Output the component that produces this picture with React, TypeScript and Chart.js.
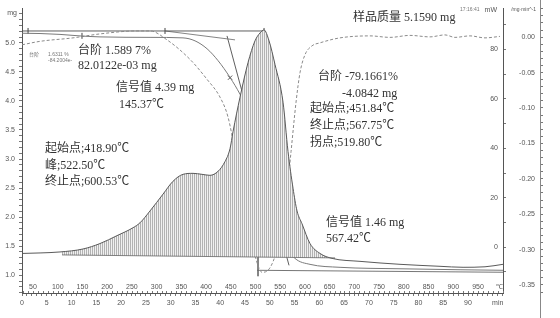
import React, { useEffect, useRef } from 'react';
import { Chart, registerables } from 'chart.js';

Chart.register(...registerables);

// ---------- DSC heat flow (mW) against temperature (°C)
const dscTemp = [27.8, 64.2, 104.6, 151.1, 185.5, 219.9, 252.3, 266.4, 286.7, 313.0, 333.2, 353.4, 373.6, 391.8, 408.0, 424.2, 438.4, 448.5, 454.5, 468.7, 484.9, 499.0, 509.2, 517.3, 527.4, 539.5, 555.7, 565.8, 575.9, 584.0, 594.1, 610.3, 630.5, 654.8, 711.4, 792.3, 873.2, 919.8, 964.2, 1000.6];
const dscPower = [-2.5, -2.3, -1.9, -0.7, 1.5, 4.7, 7.9, 9.9, 14.7, 21.5, 26.7, 29.5, 29.9, 29.5, 29.1, 30.7, 34.7, 39.9, 46.7, 60.7, 74.7, 83.5, 86.7, 87.9, 83.5, 73.9, 58.7, 38.7, 23.9, 14.7, 9.5, 1.5, -2.5, -4.5, -5.7, -6.9, -7.7, -8.1, -7.9, -6.9];
// integration baseline under the DSC peak
const baseTemp = [108.7, 660.9];
const basePower = [-3.1, -4.3];

// ---------- TG mass (mg)
const tgTemp = [27.8, 64.2, 104.6, 145.1, 185.5, 286.7, 353.4, 377.7, 402.0, 424.2, 448.5, 468.7, 489.0, 505.1, 519.3, 533.4, 549.6, 563.8, 580.0, 610.3, 671.0, 792.3, 913.7, 1000.6];
const tgMass = [5.165, 5.160, 5.145, 5.119, 5.102, 5.094, 5.085, 5.034, 4.898, 4.694, 4.404, 4.115, 3.757, 3.298, 2.753, 2.226, 1.800, 1.477, 1.289, 1.187, 1.136, 1.111, 1.094, 1.085];

// ---------- DTG (mg/min)
const dtgTemp = [27.8, 64.2, 131.0, 185.5, 260.4, 286.7, 321.0, 368.0, 402.0, 428.3, 444.4, 458.6, 478.8, 499.0, 513.2, 525.3, 545.6, 561.8, 571.9, 582.0, 590.1, 600.2, 614.4, 630.5, 671.0, 731.6, 772.0, 812.5, 852.9, 883.3, 903.5, 933.8, 964.2, 994.5];
const dtgRate = [-0.0108, -0.0059, -0.0010, 0.0046, 0.0088, 0.0088, -0.0038, -0.0317, -0.0596, -0.0848, -0.1127, -0.1616, -0.2384, -0.3082, -0.3320, -0.3292, -0.2943, -0.2314, -0.1616, -0.0918, -0.0499, -0.0247, -0.0122, -0.0080, -0.0010, 0.0018, -0.0003, 0.0025, 0.0004, 0.0032, -0.0003, 0.0018, -0.0010, 0.0011];

// ---------- evaluation construction lines on the TG curve (mg)
const tanTopTemp = [27.8, 517.3];
const tanTopMass = [5.204, 5.204];
const tanPreTemp = [317.0, 458.6];
const tanPreMass = [5.204, 5.051];
const tanMidTemp = [442.4, 567.8];
const tanMidMass = [5.119, 1.170];
const tanEndTemp = [503.1, 1000.6];
const tanEndMass = [1.085, 1.051];
const inflTemp = [505.1, 505.1];
const inflMass = [3.468, 0.983];
const markTemp = [40.0, 149.1, 317.0, 517.3];
const markMass = [5.204, 5.12, 5.204, 5.204];
const crossTemp = [448.5];
const crossMass = [4.40];

// ---------- axes
const tempMin = 27.75, tempMax = 1000.6;
const timeMax = 97.06;
const massMin = 0.694, massMax = 5.596;
const powerMin = -18.5, powerMax = 96.7;
const rateMin = -0.3613, rateMax = 0.0409;
const tempLabels = [50, 100, 150, 200, 250, 300, 350, 400, 450, 500, 550, 600, 650, 700, 750, 800, 850, 900, 950];
const tempUnitAt = 994;
const timeLabels = [0, 5, 10, 15, 20, 25, 30, 35, 40, 45, 50, 55, 60, 65, 70, 75, 80, 85, 90];
const timeUnitAt = 96;
const massLabels = [1.0, 1.5, 2.0, 2.5, 3.0, 3.5, 4.0, 4.5, 5.0];
const powerLabels = [0, 20, 40, 60, 80];
const rateLabels = [0, -0.05, -0.1, -0.15, -0.2, -0.25, -0.3, -0.35];

const notes = [
  { t: 141.0, m: 4.864, text: '台阶 1.589 7%' },
  { t: 141.0, m: 4.609, text: '82.0122e-03 mg' },
  { t: 217.9, m: 4.217, text: '信号值 4.39 mg' },
  { t: 224.0, m: 3.928, text: '145.37℃' },
  { t: 74.3, m: 3.179, text: '起始点;418.90℃' },
  { t: 74.3, m: 2.889, text: '峰;522.50℃' },
  { t: 74.3, m: 2.600, text: '终止点;600.53℃' },
  { t: 626.5, m: 4.421, text: '台阶 -79.1661%' },
  { t: 675.0, m: 4.115, text: '-4.0842 mg' },
  { t: 610.3, m: 3.860, text: '起始点;451.84℃' },
  { t: 610.3, m: 3.570, text: '终止点;567.75℃' },
  { t: 610.3, m: 3.281, text: '拐点;519.80℃' },
  { t: 642.6, m: 1.902, text: '信号值 1.46 mg' },
  { t: 642.6, m: 1.630, text: '567.42℃' },
  { t: 697.3, m: 5.426, text: '样品质量 5.1590 mg' },
];
const tinyNotes = [
  { t: 41.9, m: 4.796, text: '台阶' },
  { t: 80.3, m: 4.796, text: '1.6311 %' },
  { t: 80.3, m: 4.694, text: '-84.2004e-' },
  { t: 913.7, m: 5.579, text: '17:16:41' },
];

const pts = (xs: number[], ys: number[]) => xs.map((x, i) => ({ x, y: ys[i] }));
const steps = (a: number, b: number, s: number) => {
  const out: number[] = [];
  for (let v = a; v <= b + 1e-9; v += s) out.push(Math.round(v * 1000) / 1000);
  return out;
};
const has = (arr: number[], v: number) => arr.some(a => Math.abs(a - v) < 1e-6);

const tickFont = { family: "'Liberation Sans', Arial, sans-serif", size: 7 };
const TICK = '#555';

const decorPlugin = {
  id: 'decor',
  afterDraw(chart: any) {
    const { ctx, chartArea, scales } = chart;
    const xs = scales.x, ys = scales.y, yW = scales.yW, yD = scales.yD;
    ctx.save();
    // temperature labels and ticks just above the bottom line
    ctx.font = "7px 'Liberation Sans', Arial, sans-serif";
    ctx.fillStyle = TICK;
    ctx.textAlign = 'center';
    ctx.textBaseline = 'middle';
    tempLabels.forEach(t => ctx.fillText(String(t), xs.getPixelForValue(t), chartArea.bottom - 6));
    ctx.fillText('℃', xs.getPixelForValue(tempUnitAt), chartArea.bottom - 6);
    ctx.strokeStyle = '#777';
    ctx.lineWidth = 1;
    for (let t = 30; t <= 1000; t += 10) {
      const px = Math.round(xs.getPixelForValue(t)) + 0.5;
      ctx.beginPath();
      ctx.moveTo(px, chartArea.bottom);
      ctx.lineTo(px, chartArea.bottom - 2);
      ctx.stroke();
    }
    // DTG axis line runs the full height
    ctx.strokeStyle = '#888';
    ctx.beginPath();
    ctx.moveTo(yD.left + 0.5, 0);
    ctx.lineTo(yD.left + 0.5, chart.height);
    ctx.stroke();
    // units
    ctx.font = "7px 'Liberation Sans', Arial, sans-serif";
    ctx.textAlign = 'right';
    ctx.fillText('mg', ys.right - 5, chartArea.top + 5);
    ctx.fillText('mW', yW.left - 6, chartArea.top + 2);
    ctx.font = "5px 'Liberation Sans', Arial, sans-serif";
    ctx.fillText('/mg·min^-1', yD.left - 4, chartArea.top + 1);
    // annotations
    ctx.fillStyle = '#333';
    ctx.textAlign = 'left';
    ctx.font = "12px 'Liberation Serif', 'Noto Sans CJK SC', serif";
    notes.forEach(n => ctx.fillText(n.text, xs.getPixelForValue(n.t), ys.getPixelForValue(n.m)));
    ctx.fillStyle = '#777';
    ctx.font = "5px 'Liberation Sans', 'Noto Sans CJK SC', sans-serif";
    tinyNotes.forEach(n => ctx.fillText(n.text, xs.getPixelForValue(n.t), ys.getPixelForValue(n.m)));
    ctx.restore();
  },
};

export default function App() {
  const ref = useRef<HTMLCanvasElement>(null);
  useEffect(() => {
    const canvas = ref.current!;
    const ctx = canvas.getContext('2d')!;
    const pc = document.createElement('canvas');
    pc.width = 2; pc.height = 1;
    const pctx = pc.getContext('2d')!;
    pctx.fillStyle = '#f0f0f0'; pctx.fillRect(0, 0, 2, 1);
    pctx.fillStyle = '#b2b2b2'; pctx.fillRect(0, 0, 1, 1);
    const hatch = ctx.createPattern(pc, 'repeat');

    const lineBase = { pointRadius: 0, borderWidth: 1, fill: false, xAxisID: 'x' };
    const construction = { ...lineBase, yAxisID: 'y', borderColor: '#4d4d4d', borderWidth: 0.9 };

    const chart = new Chart(ctx, {
      type: 'line',
      data: {
        datasets: [
          { ...lineBase, yAxisID: 'yW', data: pts(baseTemp, basePower), borderColor: '#666', borderWidth: 0.8 },
          { ...lineBase, yAxisID: 'yW', data: pts(dscTemp, dscPower), borderColor: '#5a5a5a', cubicInterpolationMode: 'monotone', fill: { target: 0 }, backgroundColor: hatch as any },
          { ...lineBase, yAxisID: 'y', data: pts(tgTemp, tgMass), borderColor: '#7a7a7a', cubicInterpolationMode: 'monotone' },
          { ...lineBase, yAxisID: 'yD', data: pts(dtgTemp, dtgRate), borderColor: '#8a8a8a', borderDash: [3, 2], cubicInterpolationMode: 'monotone' },
          { ...construction, data: pts(tanTopTemp, tanTopMass) },
          { ...construction, data: pts(tanPreTemp, tanPreMass), borderColor: '#777' },
          { ...construction, data: pts(tanMidTemp, tanMidMass) },
          { ...construction, data: pts(tanEndTemp, tanEndMass), borderColor: '#666' },
          { ...construction, data: pts(inflTemp, inflMass), borderColor: '#666', borderWidth: 0.8 },
          { ...lineBase, yAxisID: 'y', data: pts(markTemp, markMass), showLine: false, pointRadius: 3, pointStyle: 'line', rotation: 90, borderColor: '#444' },
          { ...lineBase, yAxisID: 'y', data: pts(crossTemp, crossMass), showLine: false, pointRadius: 3, pointStyle: 'crossRot', borderColor: '#555' },
        ] as any,
      },
      options: {
        responsive: false,
        animation: false,
        events: [],
        layout: { padding: { top: 5, left: 0, right: 0, bottom: 0 } },
        plugins: { legend: { display: false }, tooltip: { enabled: false } },
        scales: {
          x: { type: 'linear', min: tempMin, max: tempMax, display: false },
          xt: {
            type: 'linear', position: 'bottom', min: 0, max: timeMax,
            afterBuildTicks: (s: any) => { s.ticks = steps(0, 97, 1).map(v => ({ value: v })); },
            afterFit: (s: any) => { s.height = 25; },
            grid: { drawOnChartArea: false, tickLength: 3, color: '#777' },
            border: { color: '#555' },
            ticks: {
              autoSkip: false, maxRotation: 0, padding: 3, font: tickFont, color: TICK,
              callback: (v: any) => (v === timeUnitAt ? 'min' : has(timeLabels, v) ? String(v) : ''),
            },
          },
          y: {
            type: 'linear', position: 'left', min: massMin, max: massMax,
            afterBuildTicks: (s: any) => { s.ticks = steps(0.7, 5.5, 0.1).map(v => ({ value: v })); },
            afterFit: (s: any) => { s.width = 22; },
            grid: { drawOnChartArea: false, tickLength: 3, color: '#777' },
            border: { color: '#555' },
            ticks: {
              autoSkip: false, padding: 4, font: tickFont, color: TICK,
              callback: (v: any) => (has(massLabels, v) ? Number(v).toFixed(1) : ''),
            },
          },
          yW: {
            type: 'linear', position: 'right', weight: 1, min: powerMin, max: powerMax,
            afterBuildTicks: (s: any) => { s.ticks = steps(-10, 90, 10).map(v => ({ value: v })); },
            afterFit: (s: any) => { s.width = 37; },
            grid: { drawOnChartArea: false, tickLength: 3, color: '#777' },
            border: { color: '#555' },
            ticks: {
              autoSkip: false, mirror: true, padding: -5, font: tickFont, color: TICK,
              callback: (v: any) => (has(powerLabels, v) ? String(v) : ''),
            },
          },
          yD: {
            type: 'linear', position: 'right', weight: 2, min: rateMin, max: rateMax,
            afterBuildTicks: (s: any) => { s.ticks = steps(-0.36, 0.04, 0.01).map(v => ({ value: v })); },
            afterFit: (s: any) => { s.width = 20; },
            grid: { drawOnChartArea: false, tickLength: 3, color: '#777' },
            border: { color: '#666' },
            ticks: {
              autoSkip: false, mirror: true, padding: -5, font: tickFont, color: TICK,
              callback: (v: any) => (has(rateLabels, v) ? Number(v).toFixed(2) : ''),
            },
          },
        },
      } as any,
      plugins: [decorPlugin],
    });
    return () => chart.destroy();
  }, []);
  return (
    <div style={{ position: 'absolute', left: 0, top: 0, width: 560, height: 318, background: '#fff' }}>
      <canvas ref={ref} width={560} height={318} style={{ display: 'block', width: 560, height: 318 }} />
    </div>
  );
}
